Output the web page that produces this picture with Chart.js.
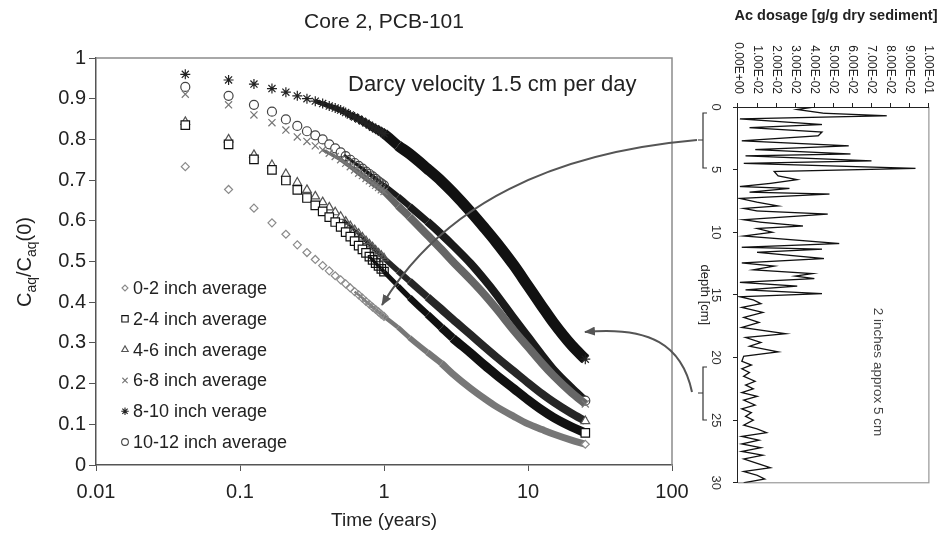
<!DOCTYPE html>
<html>
<head>
<meta charset="utf-8">
<script src="https://cdn.jsdelivr.net/npm/chart.js@4.4.0/dist/chart.umd.min.js"></script>
<style>
body{margin:0;background:#fff;width:949px;height:533px;overflow:hidden;position:relative;font-family:"Liberation Sans",Arial,sans-serif;color:#222}
#main{position:absolute;left:0;top:0}
#profWrap{position:absolute;left:945px;top:30px;width:470px;height:255px;transform-origin:0 0;transform:rotate(90deg)}
#ylab{position:absolute;left:24px;top:262px;transform:translate(-50%,-50%) rotate(-90deg);white-space:nowrap;font-size:20px}
#ylab span{font-size:14px;position:relative;top:5px}
#acTitle{position:absolute;left:836px;top:15px;transform:translate(-50%,-50%);white-space:nowrap;font-size:14.5px;font-weight:bold}
#ov{position:absolute;left:0;top:0}
</style>
</head>
<body>
<canvas id="main" width="700" height="533"></canvas>
<div id="profWrap"><canvas id="prof" width="470" height="255"></canvas></div>
<div id="ylab">C<span>aq</span>/C<span>aq</span>(0)</div>
<div id="acTitle">Ac dosage [g/g dry sediment]</div>
<svg id="ov" width="949" height="533">
  <defs><marker id="ah" markerWidth="11" markerHeight="9" refX="10" refY="4.5" orient="auto" markerUnits="userSpaceOnUse"><path d="M0,0 L11,4.5 L0,9 z" fill="#555"/></marker></defs>
  <path d="M697,140 Q470,160 382,305" stroke="#555" stroke-width="2" fill="none" marker-end="url(#ah)"/>
  <path d="M692,392 C682,345 650,326 585,332" stroke="#555" stroke-width="2" fill="none" marker-end="url(#ah)"/>
  <path d="M707,113 H703 V168 H707 M703,140 H698" stroke="#333" stroke-width="1.2" fill="none"/>
  <path d="M707,367 H703 V420 H707 M703,393 H698" stroke="#333" stroke-width="1.2" fill="none"/>
</svg>
<script>
// time in years (half-month steps, then sparser)
const times = [0.0417,0.0833,0.125,0.1667,0.2083,0.25,0.2917,0.3333,0.375,0.4167,0.4583,0.5,
  0.5417,0.5833,0.625,0.6667,0.7083,0.75,0.7917,0.8333,0.875,0.9167,0.9583,1.0,
  1.25,1.5,2,2.5,3,4,5,6,8,10,12.5,15,20,25];
const in0_2  = [0.733,0.677,0.631,0.595,0.567,0.541,0.522,0.505,0.490,0.477,0.465,0.455,0.445,0.435,0.426,0.418,0.410,0.402,0.395,0.388,0.382,0.376,0.370,0.365, 0.338,0.313,0.277,0.250,0.224,0.188,0.163,0.144,0.119,0.101,0.087,0.076,0.061,0.051];
const in2_4  = [0.835,0.788,0.751,0.725,0.699,0.676,0.656,0.638,0.623,0.609,0.597,0.585,0.572,0.561,0.550,0.539,0.530,0.521,0.512,0.504,0.496,0.489,0.482,0.475, 0.440,0.412,0.370,0.338,0.312,0.275,0.245,0.222,0.187,0.160,0.135,0.117,0.094,0.079];
const in4_6  = [0.843,0.800,0.762,0.737,0.715,0.694,0.676,0.660,0.646,0.633,0.621,0.610,0.598,0.587,0.577,0.568,0.559,0.550,0.542,0.535,0.527,0.520,0.514,0.508, 0.477,0.452,0.413,0.383,0.358,0.320,0.290,0.266,0.230,0.202,0.175,0.155,0.127,0.108];
const in6_8  = [0.911,0.885,0.860,0.841,0.823,0.806,0.795,0.784,0.774,0.766,0.758,0.750,0.741,0.733,0.725,0.717,0.711,0.704,0.698,0.692,0.687,0.682,0.676,0.672, 0.637,0.610,0.565,0.530,0.500,0.455,0.418,0.385,0.330,0.290,0.250,0.220,0.178,0.150];
const in8_10 = [0.960,0.946,0.936,0.925,0.916,0.907,0.900,0.894,0.888,0.882,0.877,0.872,0.866,0.860,0.855,0.850,0.845,0.840,0.835,0.830,0.826,0.822,0.818,0.814, 0.785,0.765,0.728,0.698,0.670,0.622,0.582,0.548,0.490,0.440,0.390,0.350,0.295,0.260];
const in10_12= [0.929,0.907,0.885,0.868,0.849,0.833,0.820,0.810,0.800,0.788,0.778,0.768,0.759,0.750,0.742,0.735,0.728,0.721,0.715,0.709,0.703,0.697,0.692,0.687, 0.660,0.636,0.598,0.567,0.540,0.495,0.455,0.420,0.360,0.315,0.270,0.235,0.190,0.158];
const seriesLabels = ['0-2 inch average','2-4 inch average','4-6 inch average','6-8 inch average','8-10 inch verage','10-12 inch average'];
const xTicks = [0.01,0.1,1,10,100];
const yTicks = [0,0.1,0.2,0.3,0.4,0.5,0.6,0.7,0.8,0.9,1];

// Ac dosage profile (right panel)
const depthCm = [0,0.2,0.5,0.7,0.95,1.4,1.65,2.0,2.3,2.7,3.1,3.4,3.75,3.9,4.3,4.5,4.9,5.15,5.5,5.8,6.1,6.35,6.5,6.8,6.95,7.3,7.6,7.9,8.1,8.3,8.55,9.0,9.2,9.5,9.7,10.0,10.3,10.5,10.9,11.2,11.35,11.6,12.1,12.45,12.7,13.0,13.3,13.5,13.7,14.0,14.3,14.6,14.9,15.15,15.4,15.7,16.0,16.4,16.8,17.2,17.6,18.1,18.4,18.8,19.1,19.55,19.9,20.3,20.6,20.9,21.2,21.5,21.9,22.2,22.5,22.8,23.1,23.4,23.8,24.1,24.4,24.7,25.0,25.4,25.7,26.0,26.3,26.6,26.9,27.2,27.5,27.8,28.1,28.5,28.8,29.1,29.4,29.7,30.0];
const acDose  = [0.040,0.031,0.045,0.078,0.001,0.044,0.006,0.044,0.042,0.002,0.058,0.009,0.059,0.004,0.070,0.003,0.093,0.019,0.021,0.031,0.017,0.001,0.027,0.006,0.048,0.001,0.010,0.021,0.003,0.010,0.047,0.003,0.012,0.034,0.010,0.018,0.003,0.020,0.053,0.002,0.044,0.010,0.045,0.002,0.019,0.008,0.039,0.030,0.040,0.001,0.031,0.004,0.044,0.001,0.008,0.012,0.002,0.013,0.003,0.011,0.002,0.025,0.004,0.012,0.006,0.021,0.003,0.002,0.007,0.002,0.006,0.003,0.009,0.004,0.008,0.002,0.010,0.003,0.009,0.002,0.007,0.004,0.008,0.003,0.010,0.015,0.002,0.011,0.002,0.012,0.002,0.013,0.003,0.011,0.017,0.003,0.010,0.014,0.003];
const depthTicks = [0,5,10,15,20,25,30];
const doseTicks = [0,0.01,0.02,0.03,0.04,0.05,0.06,0.07,0.08,0.09,0.1];

Chart.defaults.font.family = '"Liberation Sans", Arial, sans-serif';

// lineFrom: where the overlapping markers merge into a solid band
const SERIES = [
  {data:in0_2,  style:'rectRot',  r:4,   color:'#8a8a8a', lineFrom:0.6,  bandColor:'#777',    bandW:7},
  {data:in2_4,  style:'rect',     r:6,   color:'#111',    lineFrom:0.75, bandColor:'#111',    bandW:9},
  {data:in4_6,  style:'triangle', r:5,   color:'#555',    lineFrom:0.5,  bandColor:'#262626', bandW:8},
  {data:in6_8,  style:'crossRot', r:5,   color:'#777',    lineFrom:0.35, bandColor:'#666',    bandW:8},
  {data:in8_10, style:'star',     r:5,   color:'#222',    lineFrom:0.3,  bandColor:'#111',    bandW:11},
  {data:in10_12,style:'circle',   r:4.5, color:'#444',    lineFrom:0.5,  bandColor:'#1a1a1a', bandW:8},
];
const last = times.length - 1;
const CLEAR = 'rgba(0,0,0,0)';

function bandWidth(s, t){
  const k = Math.min(1, Math.log10(t / s.lineFrom) / Math.log10(5));
  return s.bandW * (0.3 + 0.7 * k);
}

const decor = {
  id:'decor',
  beforeDatasetsDraw(c){
    const {ctx, chartArea:a} = c;
    ctx.save(); ctx.strokeStyle='#8c8c8c'; ctx.lineWidth=1.5;
    ctx.beginPath(); ctx.moveTo(a.left,a.top); ctx.lineTo(a.right,a.top); ctx.lineTo(a.right,a.bottom); ctx.stroke();
    ctx.restore();
  },
  afterDraw(c){
    const {ctx, chartArea:a} = c;
    ctx.save();
    ctx.fillStyle='#222'; ctx.textBaseline='middle';
    ctx.font='21px "Liberation Sans", Arial, sans-serif'; ctx.textAlign='center';
    ctx.fillText('Core 2, PCB-101', (a.left+a.right)/2, 22);
    ctx.font='22px "Liberation Sans", Arial, sans-serif'; ctx.textAlign='left';
    ctx.fillText('Darcy velocity 1.5 cm per day', 348, 85);
    ctx.font='18px "Liberation Sans", Arial, sans-serif';
    SERIES.forEach((s,i)=>{
      const y = 288 + i*30.8;
      ctx.fillStyle='#fff'; ctx.strokeStyle=s.color; ctx.lineWidth=1.1;
      Chart.helpers.drawPoint(ctx,{pointStyle:s.style, radius:s.r*0.75, borderWidth:1.1, rotation:0},125,y);
      ctx.fillStyle='#222';
      ctx.fillText(seriesLabels[i],133,y+1);
    });
    ctx.restore();
  }
};

new Chart(document.getElementById('main'),{
  type:'scatter',
  data:{datasets:SERIES.map((s,i)=>({
    label:seriesLabels[i],
    data:times.map((t,j)=>({x:t,y:s.data[j]})),
    showLine:true, cubicInterpolationMode:'monotone',
    borderWidth:s.bandW, borderColor:s.bandColor,
    segment:{
      borderColor:c=>times[c.p0DataIndex] >= s.lineFrom ? s.bandColor : CLEAR,
      borderWidth:c=>times[c.p0DataIndex] >= s.lineFrom ? bandWidth(s, times[c.p1DataIndex]) : 0
    },
    pointStyle:s.style,
    pointRadius:c=>(times[c.dataIndex] <= 1.0 || c.dataIndex===last) ? s.r : 0,
    pointBorderColor:s.color,
    pointBackgroundColor:c=>(times[c.dataIndex] <= s.lineFrom || c.dataIndex===last) ? '#fff' : CLEAR,
    pointBorderWidth:1.2
  }))},
  options:{
    responsive:false, animation:false, events:[],
    layout:{padding:{top:58,right:28,left:0,bottom:0}},
    plugins:{legend:{display:false},tooltip:{enabled:false}},
    scales:{
      x:{type:'logarithmic',min:0.01,max:100,
        afterBuildTicks:s=>{s.ticks=xTicks.map(v=>({value:v}));},
        afterFit:s=>{s.height=68;},
        ticks:{callback:v=>String(v),font:{size:20},color:'#222',padding:9,maxRotation:0,autoSkip:false},
        grid:{drawOnChartArea:false,tickLength:6,color:'#555'},
        border:{color:'#555',width:1.5},
        title:{display:true,text:'Time (years)',font:{size:19},color:'#222',padding:{top:0,bottom:1}}},
      y:{min:0,max:1,
        afterBuildTicks:s=>{s.ticks=yTicks.map(v=>({value:v}));},
        afterFit:s=>{s.width=96;},
        ticks:{callback:v=>(v===0||v===1)?String(v):v.toFixed(1),font:{size:20},color:'#222',padding:3},
        grid:{drawOnChartArea:false,tickLength:7,color:'#555'},
        border:{color:'#555',width:1.5}}
    }
  },
  plugins:[decor]
});

function sci(v){
  const [m,e] = v.toExponential(2).split('e');
  const n = Math.abs(+e);
  return m+'E'+(+e<0?'-':'+')+(n<10?'0':'')+n;
}

const profDecor = {
  id:'profDecor',
  beforeDraw(c){
    const {ctx, chartArea:a} = c;
    ctx.save(); ctx.strokeStyle='#9a9a9a'; ctx.lineWidth=1.2;
    ctx.beginPath(); ctx.moveTo(a.left,a.top); ctx.lineTo(a.right,a.top); ctx.lineTo(a.right,a.bottom); ctx.stroke();
    ctx.restore();
  },
  afterDraw(c){
    const {ctx, chartArea:a} = c;
    ctx.save(); ctx.textAlign='center'; ctx.textBaseline='middle';
    ctx.fillStyle='#222'; ctx.font='13px "Liberation Sans", Arial, sans-serif';
    ctx.fillText('depth [cm]', (a.left+a.right)/2, a.bottom+33);
    ctx.fillStyle='#444'; ctx.font='13.5px "Liberation Sans", Arial, sans-serif';
    ctx.fillText('2 inches approx 5 cm', a.left+265, a.top+51);
    ctx.restore();
  }
};

new Chart(document.getElementById('prof'),{
  type:'scatter',
  data:{datasets:[{data:depthCm.map((d,i)=>({x:d,y:acDose[i]})),showLine:true,borderColor:'#111',borderWidth:1.3,pointRadius:0,tension:0}]},
  options:{
    responsive:false, animation:false, events:[],
    layout:{padding:{top:7,right:13,left:0,bottom:0}},
    plugins:{legend:{display:false},tooltip:{enabled:false}},
    scales:{
      x:{min:0,max:30,
        afterBuildTicks:s=>{s.ticks=depthTicks.map(v=>({value:v}));},
        afterFit:s=>{s.height=48;},
        ticks:{font:{size:13},color:'#333',padding:10,maxRotation:0},
        grid:{drawOnChartArea:false,tickLength:5,color:'#222'},
        border:{color:'#222'}},
      y:{min:0,max:0.1,
        afterBuildTicks:s=>{s.ticks=doseTicks.map(v=>({value:v}));},
        afterFit:s=>{s.width=77;},
        ticks:{callback:v=>sci(v),font:{size:12},color:'#222',padding:9},
        grid:{drawOnChartArea:false,tickLength:4,color:'#222'},
        border:{color:'#222'}}
    }
  },
  plugins:[profDecor]
});
</script>
</body>
</html>
